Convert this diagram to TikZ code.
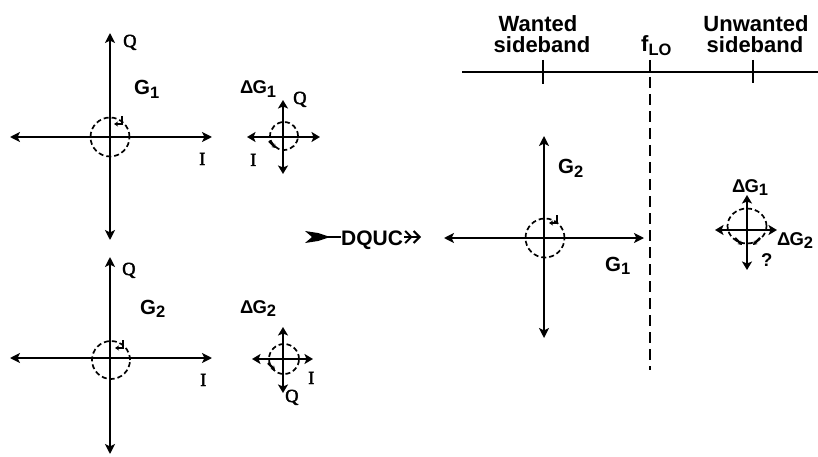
\documentclass[tikz,border=0pt]{standalone}
\usepackage{fontspec}
\setmainfont[BoldFont={Liberation Sans Bold}]{Liberation Sans}
\newfontfamily\serifQ[FakeBold=2.5]{Liberation Serif}
\usetikzlibrary{arrows.meta}
\newcommand\sbx[1]{\raisebox{-3.5pt}{\fontsize{16.5}{16.5}\selectfont\bfseries #1}}
\begin{document}
\begin{tikzpicture}[x=1pt,y=-1pt,
  axis/.style={line width=2.3pt,>={Stealth[length=10pt,width=10pt,inset=2.5pt]},<->},
  saxis/.style={line width=2.8pt,>={Stealth[length=8.5pt,width=10pt,inset=2pt]},<->},
  dcirc/.style={dash pattern=on 5pt off 3pt,line width=1.7pt},
  hook/.style={line width=2.2pt,-{Stealth[length=4pt,width=5pt]}},
  lab/.style={inner sep=0pt,anchor=base west,font=\bfseries\fontsize{20.5}{20.5}\selectfont},
  slab/.style={inner sep=0pt,anchor=base west,font=\bfseries\fontsize{18.5}{18.5}\selectfont},
  ser/.style={inner sep=0pt,anchor=base west,font=\serifQ\fontsize{18.5}{18.5}\selectfont},
  top/.style={inner sep=0pt,anchor=base,font=\bfseries\fontsize{22}{22}\selectfont},
  thin/.style={line width=2pt},
  darr/.style={line width=2pt,-{Straight Barb[length=6pt,width=12pt,line width=2pt]Straight Barb[length=6pt,width=12pt,line width=2pt]}}]
\useasboundingbox (0,0) rectangle (818,457);

% ---- top-left big constellation G1
\coordinate (a1l) at (10,137); \coordinate (a1r) at (212,137);
\coordinate (a1t) at (110,33); \coordinate (a1b) at (110,240);
\draw[axis] (a1l) -- (a1r);
\draw[axis] (a1b) -- (a1t);
\draw[dcirc] (110,137) circle[radius=19.5pt];
\draw[hook] (122,116) -- (122,124) -- (114,124);
\node[ser] (q1) at (123,47) {Q};
\node[ser] (i1) at (199,165) {I};
\node[lab] (g1) at (134,95) {G\sbx{1}};

% ---- top small dG1
\coordinate (b1l) at (247,137); \coordinate (b1r) at (320,137);
\coordinate (b1t) at (283,100); \coordinate (b1b) at (283,174);
\draw[saxis] (b1l) -- (b1r);
\draw[saxis] (b1b) -- (b1t);
\draw[dcirc] (284,136) circle[radius=14pt];
\draw[hook] (269,141) -- (276,148);
\node[slab] (dg1) at (240,94) {Δ\kern-1pt G\sbx{1}};
\node[ser] (q2) at (293,104) {Q};
\node[ser] (i2) at (250,166) {I};

% ---- bottom-left big constellation G2
\coordinate (a2l) at (10,358); \coordinate (a2r) at (212,358);
\coordinate (a2t) at (110,257); \coordinate (a2b) at (110,454);
\draw[axis] (a2l) -- (a2r);
\draw[axis] (a2b) -- (a2t);
\draw[dcirc] (111,360) circle[radius=19pt];
\draw[hook] (123,340) -- (123,348) -- (115,348);
\node[ser] (q3) at (122,275) {Q};
\node[ser] (i3) at (200,386) {I};
\node[lab] (g2) at (140,314) {G\sbx{2}};

% ---- bottom small dG2
\coordinate (b2l) at (252,359); \coordinate (b2r) at (313,359);
\coordinate (b2t) at (283,327); \coordinate (b2b) at (283,393);
\draw[saxis] (b2l) -- (b2r);
\draw[saxis] (b2b) -- (b2t);
\draw[dcirc] (284,359) circle[radius=15pt];
\draw[hook] (268,363) -- (275,370);
\node[slab] (dg2) at (240,313) {Δ\kern-1pt G\sbx{2}};
\node[ser] (i4) at (308,384) {I};
\node[ser] (q4) at (285,402) {Q};

% ---- DQUC
\fill (305,231) -- (318,233) -- (330,237) -- (318,241) -- (305,243) -- (312,237) -- cycle;
\coordinate (fl) at (328,237);
\node[inner sep=0pt,anchor=base west,font=\bfseries\fontsize{21}{21}\selectfont] (dq) at (341,245) {DQUC};
\coordinate (dqe) at (421,237);
\draw[thin] (fl) -- (dq.west |- fl);
\draw[darr] (dq.east |- dqe) ++(1,0) -- (dqe);

% ---- frequency axis
\coordinate (fs) at (462,72); \coordinate (fe) at (818,72);
\draw[thin] (fs) -- (fe);
\coordinate (t1) at (543,60); \coordinate (t1b) at (543,84);
\coordinate (t2) at (753,60); \coordinate (t2b) at (753,83);
\draw[thin] (t1) -- (t1b);
\draw[thin] (t2) -- (t2b);
\coordinate (lo1) at (650,60); \coordinate (lo2) at (650,370);
\draw[line width=2.2pt,dash pattern=on 11pt off 6pt] (lo1) -- (lo2);
\node[top] (w1) at (538,32) {Wanted};
\node[top] (w2) at (542,53) {sideband};
\node[inner sep=0pt,anchor=base west,font=\bfseries\fontsize{22}{22}\selectfont] (flo) at (641,52) {f\sbx{LO}};
\node[top] (u1) at (756,32) {Unwanted};
\node[top] (u2) at (755,53) {sideband};

% ---- middle constellation
\coordinate (c1l) at (444,238); \coordinate (c1r) at (644,238);
\coordinate (c1t) at (544,136); \coordinate (c1b) at (544,338);
\draw[axis] (c1l) -- (c1r);
\draw[axis] (c1b) -- (c1t);
\draw[dcirc] (545,238) circle[radius=19.5pt];
\draw[hook] (557,215) -- (557,223) -- (549,223);
\node[lab] (g3) at (558,174) {G\sbx{2}};
\node[lab] (g4) at (605,271) {G\sbx{1}};

% ---- right small (image)
\coordinate (d1l) at (715,230); \coordinate (d1r) at (777,230);
\coordinate (d1t) at (747,195); \coordinate (d1b) at (747,270);
\draw[saxis] (d1l) -- (d1r);
\draw[saxis] (d1b) -- (d1t);
\draw[dcirc] (747,226) ellipse[x radius=19.5pt,y radius=17.5pt];
\draw[hook] (735,238) -- (742,245);
\draw[hook] (760,238) -- (753,245);
\node[slab] (dg3) at (732,192) {Δ\kern-1pt G\sbx{1}};
\node[slab] (dg4) at (777,245) {Δ\kern-1pt G\sbx{2}};
\node[slab] (qm) at (761,266) {?};
\end{tikzpicture}
\end{document}
